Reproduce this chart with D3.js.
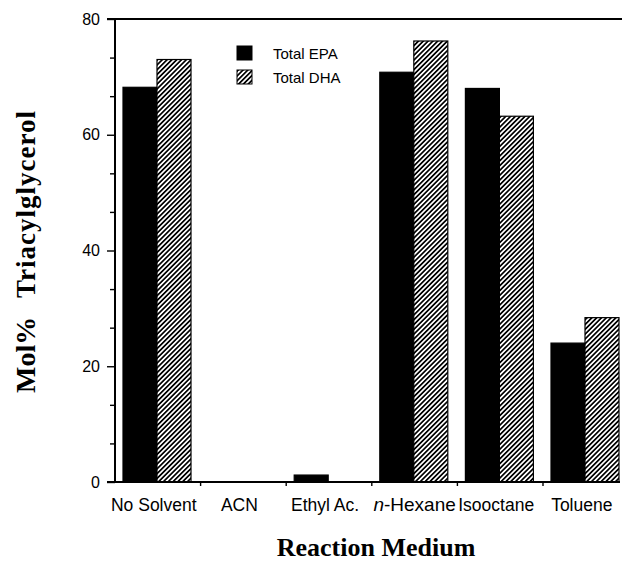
<!DOCTYPE html>
<html>
<head>
<meta charset="utf-8">
<script src="https://cdn.jsdelivr.net/npm/d3@7"></script>
<style>
  body { margin: 0; background: #fff; }
  svg { display: block; }
</style>
</head>
<body>
<svg width="622" height="561"></svg>
<script>
const categories = ["No Solvent", "ACN", "Ethyl Ac.", "n-Hexane", "Isooctane", "Toluene"];
const seriesNames = ["Total EPA", "Total DHA"];
const epaValues = [68.2, 0, 1.2, 70.8, 68.0, 24.0];
const dhaValues = [73.0, 0, 0, 76.2, 63.2, 28.4];
const yTicks = [0, 20, 40, 60, 80];

let svg = d3.select("svg");
const plotLeft = 115, plotRight = 628.6, plotTop = 19, plotBottom = 482;
const sans = "Liberation Sans, Arial, sans-serif";
const serif = "Liberation Serif, Times New Roman, serif";

// hatch for DHA
const defs = svg.append("defs");
defs.append("pattern")
    .attr("id", "hatch")
    .attr("patternUnits", "userSpaceOnUse")
    .attr("width", 3.4).attr("height", 3.4)
    .attr("patternTransform", "rotate(45)")
    .call(p => {
        p.append("rect").attr("width", 3.4).attr("height", 3.4).attr("fill", "#fff");
        p.append("rect").attr("x", 0).attr("width", 1.7).attr("height", 3.4).attr("fill", "#000");
    });

const x = d3.scaleBand().domain(categories).range([plotLeft, plotRight]);
const x1 = d3.scaleBand().domain(seriesNames).range([8, 76]);
const y = d3.scaleLinear().domain([0, 80]).range([plotBottom, plotTop]);

const data = categories.map((c, i) => ({ cat: c, vals: [epaValues[i], dhaValues[i]] }));

const groups = svg.append("g").selectAll("g")
    .data(data).enter().append("g")
    .attr("transform", d => `translate(${x(d.cat)},0)`);

groups.selectAll("rect")
    .data(d => d.vals.map((v, k) => ({ key: seriesNames[k], v: v })).filter(d => d.v > 0))
    .enter().append("rect")
    .attr("x", d => x1(d.key))
    .attr("width", x1.bandwidth())
    .attr("y", d => y(d.v))
    .attr("height", d => y(0) - y(d.v))
    .attr("fill", d => d.key === "Total EPA" ? "#000" : "url(#hatch)")
    .attr("stroke", "#000")
    .attr("stroke-width", 1.2);

// y axis, minor ticks every 20/3
const tickVals = d3.range(13).map(i => i * 20 / 3);
const isMajor = d => yTicks.some(t => Math.abs(t - d) < 0.01);
const yAxis = svg.append("g")
    .attr("transform", `translate(${plotLeft},0)`)
    .call(d3.axisLeft(y).tickValues(tickVals).tickSize(8)
        .tickFormat(d => isMajor(d) ? Math.round(d) : ""));
yAxis.selectAll(".tick line").attr("x2", d => isMajor(d) ? -8 : -5).attr("stroke-width", 1.4);
yAxis.select(".domain").attr("stroke-width", 2).attr("d", `M0,${plotBottom}V${plotTop}`);
yAxis.selectAll("text").attr("font-family", sans).attr("font-size", 16).attr("fill", "#000").attr("x", -15);

// top line
svg.append("line").attr("x1", plotLeft - 8).attr("x2", 622).attr("y1", plotTop).attr("y2", plotTop)
    .attr("stroke", "#000").attr("stroke-width", 2);

// x axis
const xAxis = svg.append("g")
    .attr("transform", `translate(0,${plotBottom})`)
    .call(d3.axisBottom(x).tickValues(categories.slice(1)).tickSize(4).tickFormat(""));
xAxis.selectAll(".tick").attr("transform", d => `translate(${x(d)},0)`);
xAxis.select(".domain").attr("stroke-width", 2).attr("d", `M${plotLeft - 8},0H620`);
xAxis.selectAll(".tick line").attr("stroke-width", 1.4);

// x category labels
svg.append("g").selectAll("text")
    .data(categories).enter().append("text")
    .attr("x", d => x(d) + x.bandwidth() / 2 - (d === "n-Hexane" ? 0 : 4))
    .attr("y", 511)
    .attr("text-anchor", "middle")
    .attr("font-family", sans)
    .attr("font-size", d => d === "n-Hexane" ? 19 : 17.5)
    .each(function (d) {
        const t = d3.select(this);
        if (d === "n-Hexane") {
            t.append("tspan").attr("font-style", "italic").text("n");
            t.append("tspan").text("-Hexane");
        } else {
            t.text(d);
        }
    });

// legend
const legend = svg.append("g").attr("transform", "translate(237,46)");
seriesNames.forEach((s, i) => {
    legend.append("rect")
        .attr("x", 0).attr("y", i * 24)
        .attr("width", 15).attr("height", 14)
        .attr("fill", i === 0 ? "#000" : "url(#hatch)")
        .attr("stroke", "#000");
    legend.append("text")
        .attr("x", 36).attr("y", i * 24 + 13)
        .attr("font-family", sans)
        .attr("font-size", 15)
        .text(s);
});

// axis titles
svg.append("text")
    .attr("transform", "translate(35,393) rotate(-90)")
    .attr("font-family", serif)
    .attr("font-weight", "bold")
    .attr("font-size", 28)
    .text("Mol%");
svg.append("text")
    .attr("transform", "translate(35,298) rotate(-90)")
    .attr("font-family", serif)
    .attr("font-weight", "bold")
    .attr("font-size", 27)
    .attr("textLength", 187)
    .attr("lengthAdjust", "spacing")
    .text("Triacylglycerol");

svg.append("text")
    .attr("x", 376).attr("y", 556)
    .attr("text-anchor", "middle")
    .attr("font-family", serif)
    .attr("font-weight", "bold")
    .attr("font-size", 26)
    .text("Reaction Medium");
</script>
</body>
</html>
